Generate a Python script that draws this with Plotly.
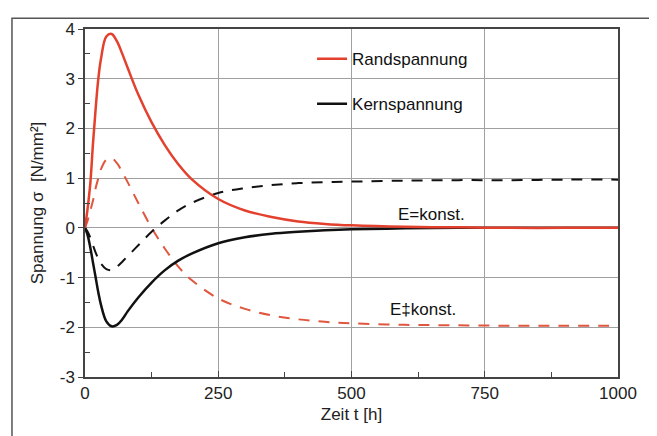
import plotly.graph_objects as go

# Zeit t [h]
zeit = [0, 5, 10, 15, 20, 25, 30, 40, 50, 60, 70, 80, 100, 125, 150, 175, 200,
        250, 300, 350, 400, 450, 500, 600, 700, 800, 900, 1000]

# Randspannung, E = konst.
rand_konst = [0, 0.4, 0.9, 1.7, 2.4, 3.0, 3.4, 3.85, 3.9, 3.75, 3.5, 3.22, 2.68,
              2.12, 1.66, 1.28, 0.98, 0.58, 0.35, 0.22, 0.13, 0.08, 0.05, 0.02,
              0.01, 0.0, 0.0, 0.0]

# Kernspannung, E = konst.
kern_konst = [0, -0.15, -0.4, -0.7, -1.0, -1.3, -1.55, -1.88, -1.98, -1.95,
              -1.84, -1.68, -1.4, -1.1, -0.85, -0.66, -0.52, -0.31, -0.19, -0.12,
              -0.08, -0.05, -0.03, -0.01, 0.0, 0.0, 0.0, 0.0]

# Randspannung, E nicht konst.
rand_var = [0, 0.15, 0.35, 0.55, 0.8, 1.0, 1.18, 1.37, 1.4, 1.3, 1.12, 0.92,
            0.5, 0.0, -0.42, -0.78, -1.05, -1.42, -1.63, -1.76, -1.84, -1.89,
            -1.92, -1.95, -1.96, -1.97, -1.97, -1.97]

# Kernspannung, E nicht konst.
kern_var = [0, -0.08, -0.2, -0.35, -0.5, -0.62, -0.72, -0.83, -0.85, -0.78,
            -0.68, -0.57, -0.35, -0.08, 0.15, 0.35, 0.5, 0.7, 0.8, 0.86, 0.9,
            0.92, 0.93, 0.95, 0.96, 0.96, 0.97, 0.97]

y_ticks = [-3, -2, -1, 0, 1, 2, 3, 4]
y_labels = ["-3", "-2", "-1", "0", "1", "2", "3", "4"]
x_ticks = [0, 250, 500, 750, 1000]

RED = "#e3412e"
BLACK = "#111111"
FONT = "Liberation Sans, Arial, sans-serif"
DASH = "11px,9px"

fig = go.Figure()

fig.add_trace(go.Scatter(x=zeit, y=rand_var, mode="lines", line_shape="spline",
                         line=dict(color="#e0563f", width=2, dash=DASH),
                         showlegend=False))
fig.add_trace(go.Scatter(x=zeit, y=kern_var, mode="lines", line_shape="spline",
                         line=dict(color=BLACK, width=2, dash=DASH),
                         showlegend=False))
fig.add_trace(go.Scatter(x=zeit, y=kern_konst, mode="lines", line_shape="spline",
                         name="Kernspannung", legend="legend2",
                         line=dict(color=BLACK, width=2.5)))
fig.add_trace(go.Scatter(x=zeit, y=rand_konst, mode="lines", line_shape="spline",
                         name="Randspannung", legend="legend",
                         line=dict(color=RED, width=2.5)))

fig.add_annotation(x=651, y=0.27, text="E=konst.", showarrow=False,
                   font=dict(size=17, color="#111"))
fig.add_annotation(x=634, y=-1.65, text="E‡konst.", showarrow=False,
                   font=dict(size=17, color="#111"))

# outer frame of the figure
fig.add_shape(type="rect", xref="paper", yref="paper",
              x0=-0.137, x1=1.069, y0=-0.25, y1=1.031,
              line=dict(color="#555", width=1.5), layer="below")

axis_common = dict(
    showline=True, linecolor="#444", linewidth=1.5, mirror=True,
    showgrid=True, gridcolor="#a0a0a0", gridwidth=1, zeroline=False,
    tickfont=dict(size=17, color="#222"), tickcolor="#444",
)

fig.update_xaxes(
    range=[0, 1000], tickvals=x_ticks,
    ticks="inside", ticklen=6,
    minor=dict(tickvals=[125, 375, 625, 875], ticks="inside", ticklen=5,
               tickcolor="#444", showgrid=False),
    title=dict(text="Zeit t [h]", font=dict(size=17, color="#222"), standoff=6),
    **axis_common,
)
fig.update_yaxes(
    range=[-3, 4], tickvals=y_ticks, ticktext=y_labels,
    ticks="outside", ticklen=5,
    minor=dict(tickvals=[-2.5, -1.5, -0.5, 0.5, 1.5, 2.5, 3.5], ticks="inside",
               ticklen=5, tickcolor="#444", showgrid=False),
    title=dict(text="Spannung σ\u00a0\u00a0[N/mm²]",
               font=dict(size=17, color="#222"), standoff=12),
    **axis_common,
)

legend_style = dict(xanchor="left", yanchor="middle", bgcolor="rgba(0,0,0,0)",
                    font=dict(size=17, color="#111"), itemwidth=30)

# page body adds 8px around the figure, so margins are shifted by that
fig.update_layout(
    width=649, height=428,
    margin=dict(l=77, r=39, t=12, b=59),
    paper_bgcolor="white", plot_bgcolor="white",
    font=dict(family=FONT),
    legend=dict(x=0.426, y=0.913, **legend_style),
    legend2=dict(x=0.426, y=0.784, **legend_style),
)

fig.write_html("out.html")
